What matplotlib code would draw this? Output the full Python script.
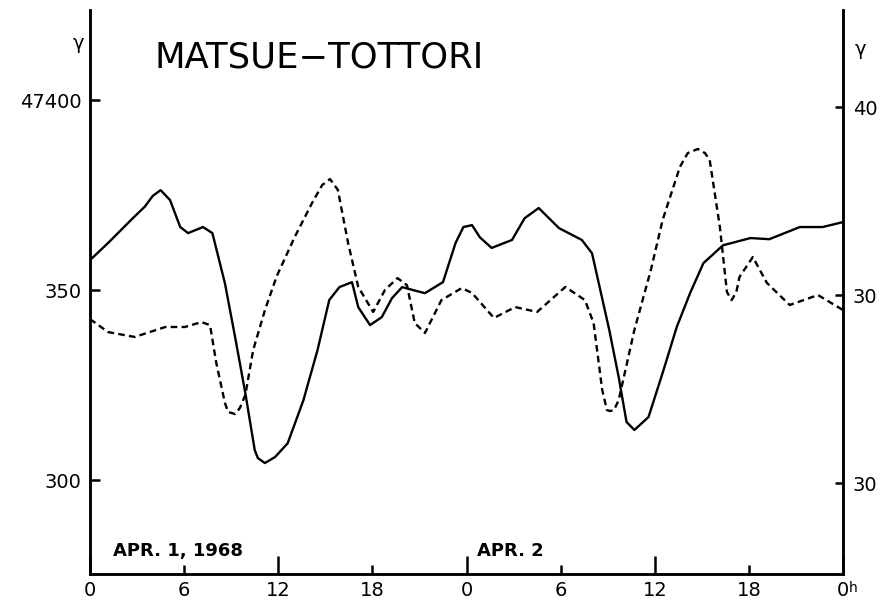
import numpy as np
import matplotlib.pyplot as plt

plt.rcParams['font.family'] = 'DejaVu Sans'

# solid curve (left scale, gamma)
hours_solid = [0, 1.2, 2.6, 3.5, 4.0, 4.5, 5.1, 5.75, 6.25, 7.2, 7.8, 8.6, 9.25, 9.9,
               10.5, 10.7, 11.15, 11.8, 12.6, 13.6, 14.5, 15.25, 15.9, 16.7, 17.1, 17.85,
               18.6, 19.25, 19.9, 20.6, 21.35, 22.5, 23.3, 23.8, 24.35, 24.85, 25.6,
               26.9, 27.7, 28.6, 29.9, 31.35, 32.0, 33.1, 33.7, 34.2, 34.7, 35.6, 36.5,
               37.4, 38.25, 39.1, 40.35, 42.1, 43.3, 45.25, 46.7, 48.0]
solid_gamma = [47357.9, 47362.6, 47368.4, 47372.0, 47374.8, 47376.3, 47373.7, 47366.6,
               47365.0, 47366.6, 47365.0, 47351.8, 47337.6, 47322.9, 47307.9, 47305.8,
               47304.5, 47306.1, 47309.7, 47321.0, 47334.2, 47347.4, 47350.8, 47352.1,
               47345.5, 47340.8, 47342.9, 47347.9, 47350.8, 47350.0, 47349.2, 47352.1,
               47362.4, 47366.6, 47367.1, 47363.9, 47361.1, 47363.2, 47368.9, 47371.6,
               47366.3, 47363.2, 47359.7, 47339.5, 47327.1, 47315.3, 47313.2, 47316.6,
               47328.2, 47340.3, 47349.2, 47357.1, 47361.8, 47363.7, 47363.4, 47366.6,
               47366.6, 47367.9]

# dashed curve (right scale, gamma)
hours_dashed = [0, 1.15, 2.85, 4.8, 6.05, 7.1, 7.65, 8.05, 8.6, 8.8, 9.25, 9.55, 9.9,
                10.4, 11.15, 11.9, 13.05, 14.15, 14.8, 15.3, 15.8, 16.45, 17.1, 18.05,
                18.8, 19.6, 20.2, 20.7, 21.35, 22.4, 23.7, 24.35, 25.75, 27.1, 28.5,
                30.3, 31.55, 32.1, 32.65, 32.95, 33.15, 33.4, 33.7, 34.7, 35.75, 36.5,
                37.6, 38.1, 38.75, 39.2, 39.5, 40.15, 40.6, 40.9, 41.2, 41.4, 42.25,
                43.15, 44.6, 46.4, 48.0]
dashed_gamma = [28.72, 28.03, 27.77, 28.30, 28.30, 28.56, 28.40, 26.38, 24.26, 23.78,
                23.67, 23.99, 24.68, 27.07, 29.20, 31.0, 33.09, 34.89, 35.85, 36.17,
                35.59, 32.77, 30.43, 29.10, 30.27, 30.90, 30.53, 28.51, 27.98, 29.73,
                30.37, 30.11, 28.78, 29.36, 29.10, 30.43, 29.73, 28.51, 24.95, 23.88,
                23.83, 23.88, 24.41, 28.14, 31.33, 33.99, 36.81, 37.55, 37.77, 37.55,
                37.18, 33.62, 30.16, 29.73, 30.16, 30.96, 32.02, 30.64, 29.47, 30.0,
                29.20]

major_hours = [0, 12, 24, 36, 48]
major_labels = ['0', '12', '0', '12', '0']
minor_hours = [6, 18, 30, 42]
minor_labels = ['6', '18', '6', '18']
left_ticks = [47400, 47350, 47300]
left_labels = ['47400', '350', '300']
right_ticks = [40, 30, 20]
right_labels = ['40', '30', '30']

fig = plt.figure(figsize=(8.86, 6), dpi=100)
ax = fig.add_axes([0.1016, 0.0433, 0.8499, 0.94])
ax2 = ax.twinx()

lw = 1.7
ax.plot(hours_solid, solid_gamma, color='black', lw=lw,
        solid_joinstyle='round', solid_capstyle='round')
ax2.plot(hours_dashed, dashed_gamma, color='black', lw=lw, dashes=(2.8, 1.8))

ax.set_xlim(0, 48)
ax.set_ylim(47275.3, 47423.7)
ax2.set_ylim(15.16, 45.16)

for a in (ax, ax2):
    a.spines['top'].set_visible(False)
    for s in a.spines.values():
        s.set_linewidth(1.8)

ax.set_xticks(major_hours)
ax.set_xticklabels(major_labels)
ax.set_xticks(minor_hours, minor=True)
ax.set_xticklabels(minor_labels, minor=True)
ax.tick_params(axis='x', which='major', direction='in', length=13, width=1.8,
               pad=5, labelsize=14)
ax.tick_params(axis='x', which='minor', direction='in', length=6.5, width=1.8,
               pad=5, labelsize=14)

ax.set_yticks(left_ticks)
ax.set_yticklabels(left_labels)
ax.tick_params(axis='y', direction='in', length=7, width=1.8, pad=6, labelsize=14)
ax2.set_yticks(right_ticks)
ax2.set_yticklabels(right_labels)
ax2.tick_params(axis='y', direction='in', length=6, width=1.8, pad=7, labelsize=14)

ax.text(1.0075, -0.012, 'h', transform=ax.transAxes, fontsize=10, va='top')
ax.text(-0.016, 0.94, 'γ', transform=ax.transAxes, fontsize=14, ha='center', va='center')
ax.text(1.0235, 0.93, 'γ', transform=ax.transAxes, fontsize=14, ha='center', va='center')

ax.text(0.086, 0.915, 'MATSUE\u2212TOTTORI', transform=ax.transAxes, fontsize=25.5,
        va='center', ha='left')
ax.text(0.03, 0.04, 'APR. 1, 1968', transform=ax.transAxes, fontsize=13,
        fontweight='bold', va='center', ha='left')
ax.text(0.514, 0.04, 'APR. 2', transform=ax.transAxes, fontsize=13,
        fontweight='bold', va='center', ha='left')

plt.savefig('out.png', dpi=100)
